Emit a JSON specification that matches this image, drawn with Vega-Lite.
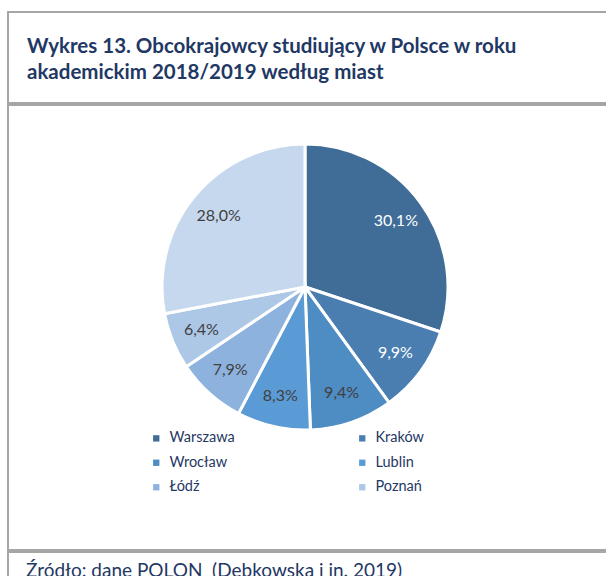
{
  "$schema": "https://vega.github.io/schema/vega-lite/v6.json",
  "background": "white",
  "padding": {"left": 7, "top": 11, "right": -13, "bottom": -13},
  "spacing": 0,
  "config": {
    "view": {"stroke": "#A6A6A6", "strokeWidth": 2},
    "font": "Lato",
    "locale": {"number": {"decimal": ",", "thousands": " ", "grouping": [3], "currency": ["", " zł"]}}
  },
  "datasets": {
    "miasta": [
      {"miasto": "Warszawa", "udzial": 0.301, "kolejnosc": 1},
      {"miasto": "Kraków", "udzial": 0.099, "kolejnosc": 2},
      {"miasto": "Wrocław", "udzial": 0.094, "kolejnosc": 3},
      {"miasto": "Lublin", "udzial": 0.083, "kolejnosc": 4},
      {"miasto": "Łódź", "udzial": 0.079, "kolejnosc": 5},
      {"miasto": "Poznań", "udzial": 0.064, "kolejnosc": 6},
      {"miasto": "Pozostałe", "udzial": 0.280, "kolejnosc": 7}
    ],
    "tytul": [
      {"linia": 1, "tekst": "Wykres 13. Obcokrajowcy studiujący w Polsce w roku"},
      {"linia": 2, "tekst": "akademickim 2018/2019 według miast"}
    ],
    "zrodlo": [
      {"tekst": "Źródło: dane POLON\u00a0 (Dębkowska i in. 2019)"}
    ]
  },
  "resolve": {"scale": {"color": "independent"}, "legend": {"color": "independent"}},
  "vconcat": [
    {
      "width": 610,
      "height": 91,
      "data": {"name": "tytul"},
      "mark": {"type": "text", "align": "left", "baseline": "alphabetic", "font": "Lato", "fontSize": 20.5, "fontWeight": "bold", "color": "#1F3864"},
      "encoding": {
        "text": {"field": "tekst", "type": "nominal"},
        "x": {"value": 19},
        "y": {"field": "linia", "type": "quantitative", "scale": {"domain": [1, 2], "range": [41, 67]}, "axis": null}
      }
    },
    {
      "width": 610,
      "height": 445,
      "data": {"name": "miasta"},
      "encoding": {
        "theta": {"field": "udzial", "type": "quantitative", "stack": true},
        "order": {"field": "kolejnosc", "type": "quantitative", "sort": "ascending"},
        "x": {"value": 297},
        "y": {"value": 182}
      },
      "layer": [
        {
          "mark": {"type": "arc", "outerRadius": 143, "stroke": "white", "strokeWidth": 3},
          "encoding": {
            "color": {
              "field": "miasto",
              "type": "nominal",
              "scale": {
                "domain": ["Warszawa", "Kraków", "Wrocław", "Lublin", "Łódź", "Poznań", "Pozostałe"],
                "range": ["#3F6D98", "#4A7EB1", "#4E8CC4", "#5B9BD5", "#8DB2DE", "#ADC7E6", "#C6D8EE"]
              },
              "legend": {
                "values": ["Warszawa", "Kraków", "Wrocław", "Lublin", "Łódź", "Poznań"],
                "title": null,
                "orient": "none",
                "direction": "horizontal",
                "legendX": 141,
                "legendY": 326,
                "columns": 2,
                "columnPadding": 120,
                "rowPadding": 9.5,
                "padding": 0,
                "symbolType": "square",
                "symbolSize": 40,
                "symbolStrokeWidth": 0,
                "labelFont": "Lato",
                "labelFontSize": 14.5,
                "labelColor": "#1F3864",
                "labelOffset": 6
              }
            }
          }
        },
        {
          "mark": {"type": "text", "radius": 112, "font": "Lato", "fontSize": 16},
          "encoding": {
            "text": {"field": "udzial", "type": "quantitative", "format": ".1%"},
            "color": {"condition": {"test": "datum.kolejnosc <= 2", "value": "white"}, "value": "#404040"}
          }
        }
      ]
    },
    {
      "width": 610,
      "height": 40,
      "data": {"name": "zrodlo"},
      "mark": {"type": "text", "align": "left", "baseline": "alphabetic", "font": "Lato", "fontSize": 19, "color": "#1F3864"},
      "encoding": {
        "text": {"field": "tekst", "type": "nominal"},
        "x": {"value": 18},
        "y": {"value": 24.5}
      }
    }
  ]
}
